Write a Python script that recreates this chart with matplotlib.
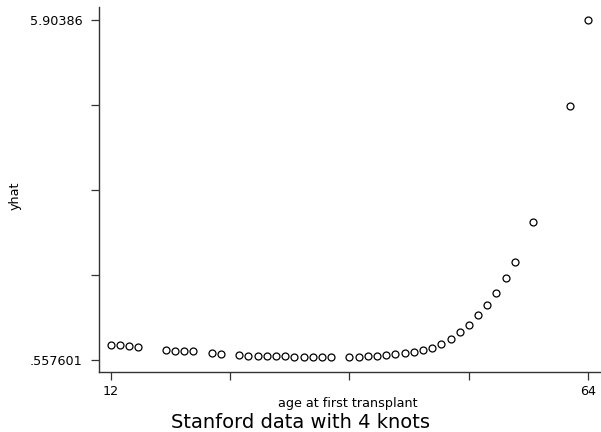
import matplotlib
matplotlib.use("Agg")
import matplotlib.pyplot as plt

# age at first transplant
age = [12, 13, 14, 15, 18, 19, 20, 21, 23, 24,
       26, 27, 28, 29, 30, 31, 32, 33, 34, 35, 36,
       38, 39, 40, 41, 42, 43, 44, 45, 46, 47, 48, 49, 50,
       51, 52, 53, 54, 55, 56, 58, 62, 64]
# fitted values (spline with 4 knots)
yhat = [0.7936, 0.7889, 0.7779, 0.7669, 0.7071, 0.7055, 0.6993, 0.6945, 0.664, 0.659,
        0.633, 0.626, 0.621, 0.617, 0.614, 0.613, 0.611, 0.610, 0.608, 0.608, 0.608,
        0.609, 0.612, 0.619, 0.627, 0.636, 0.652, 0.668, 0.687, 0.715, 0.751, 0.814, 0.893, 0.993,
        1.113, 1.261, 1.427, 1.616, 1.848, 2.099, 2.731, 4.558, 5.90386]

xticks = [12, 25, 38, 51, 64]
xticklabels = ["12", "", "", "", "64"]
ymin_lab, ymax_lab = 0.557601, 5.90386
yticks = [ymin_lab + i * (ymax_lab - ymin_lab) / 4 for i in range(5)]
yticklabels = [".557601", "", "", "", "5.90386"]

fig = plt.figure(figsize=(6.01, 4.32), dpi=100)
ax = fig.add_axes([99 / 601, 1 - 371.5 / 432, 502 / 601, 364.5 / 432])

ax.plot(age, yhat, linestyle="none", marker="o", markersize=5,
        markerfacecolor="none", markeredgecolor="black", markeredgewidth=0.9)

ax.set_xlim(10.73, 65.38)
ax.set_ylim(0.3768, 6.108)
ax.set_xticks(xticks)
ax.set_xticklabels(xticklabels)
ax.set_yticks(yticks)
ax.set_yticklabels(yticklabels)

for s in ["top", "right"]:
    ax.spines[s].set_visible(False)
for s in ["left", "bottom"]:
    ax.spines[s].set_color("#333333")
    ax.spines[s].set_linewidth(1.0)

ax.tick_params(axis="both", direction="out", length=6, width=0.9, color="#333333",
               labelsize=9.2, labelcolor="black", pad=4)
ax.tick_params(axis="y", pad=6)

ax.set_xlabel("age at first transplant", fontsize=9.2)
ax.set_ylabel("yhat", fontsize=9.2)
ax.yaxis.set_label_coords(-77 / 502, (371.5 - 196) / 364.5)
ax.xaxis.set_label_coords((348 - 99) / 502, -(396.5 - 371.5) / 364.5)

fig.text(0.5, 1 - 422 / 432, "Stanford data with 4 knots", ha="center", va="center",
         fontsize=14)

fig.savefig("out.png", dpi=100)
